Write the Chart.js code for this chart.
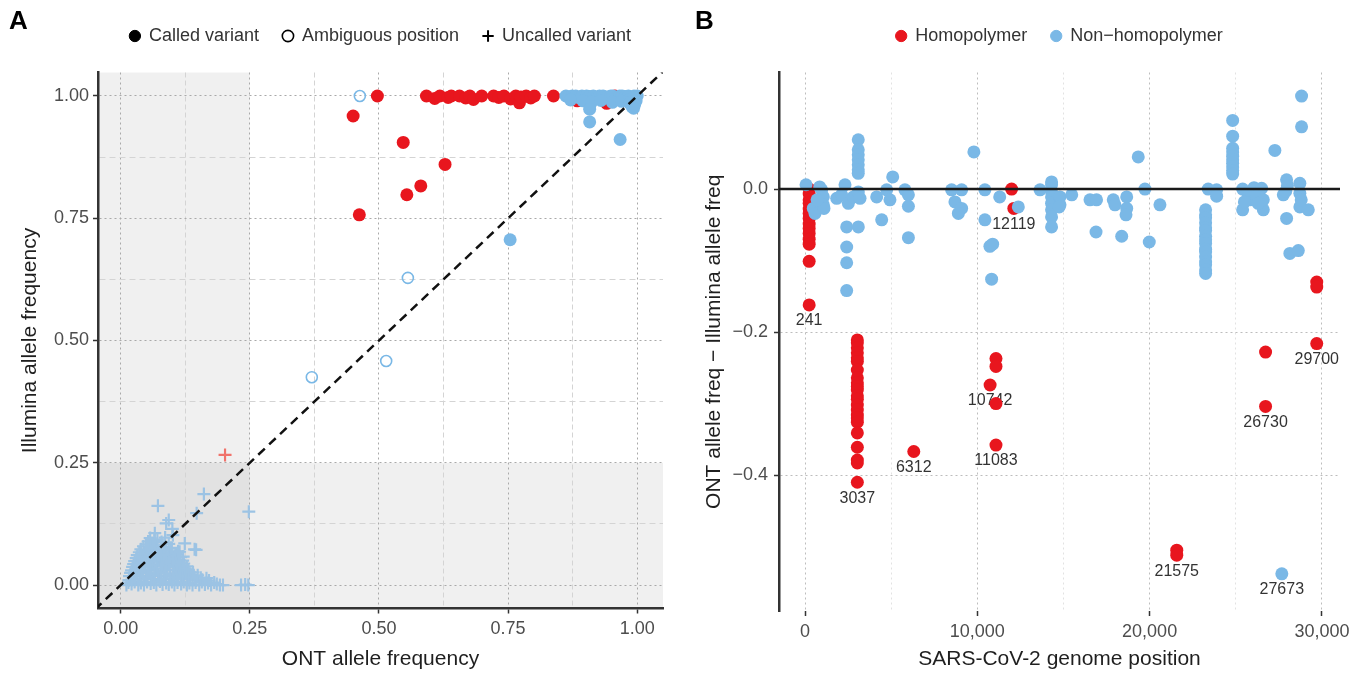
<!DOCTYPE html>
<html>
<head>
<meta charset="utf-8">
<script src="https://cdn.jsdelivr.net/npm/chart.js@4/dist/chart.umd.min.js"></script>
<style>
  html, body { margin: 0; padding: 0; background: #ffffff; overflow: hidden; }
  #boxA { position: absolute; left: 0; top: 0; width: 684px; height: 679px; }
  #boxB { position: absolute; left: 684px; top: 0; width: 685px; height: 679px; }
</style>
</head>
<body>
<div id="boxA"><canvas id="chartA" width="684" height="679"></canvas></div>
<div id="boxB"><canvas id="chartB" width="685" height="679"></canvas></div>
<script>
// ---------------- Panel A data ----------------
const calledHomoONT = [0.497,0.450,0.462,0.547,0.554,0.581,0.628,
  0.592,0.608,0.618,0.634,0.640,0.656,0.668,0.676,0.683,0.699,
  0.722,0.732,0.742,0.755,0.765,0.772,0.775,0.785,0.794,0.801,
  0.838,0.941,0.957,0.884];
const calledHomoIllumina = [1.000,0.959,0.757,0.905,0.798,0.816,0.860,
  1.000,0.995,1.000,0.997,1.000,1.000,0.996,1.000,0.993,1.000,
  1.000,0.997,1.000,0.994,1.000,0.986,0.998,1.000,0.996,1.000,
  1.000,0.985,1.000,0.990];

const calledNonHomoONT = [0.862,0.868,0.874,0.881,0.886,0.893,0.902,0.908,0.915,0.921,0.927,0.934,
  0.942,0.949,0.953,0.961,0.966,0.971,0.978,0.983,0.988,0.994,1.000,
  0.871,0.895,0.912,0.930,0.952,0.970,0.985,0.998,0.995,0.990,
  0.908,0.908,0.967,0.993,0.754];
const calledNonHomoIllumina = [1.000,0.998,1.000,1.000,0.997,1.000,1.000,0.999,1.000,0.996,1.000,1.000,
  0.998,1.000,1.000,0.997,1.000,1.000,0.999,1.000,0.996,1.000,1.000,
  0.992,0.990,0.988,0.991,0.987,0.989,0.986,0.990,0.982,0.978,
  0.973,0.947,0.911,0.975,0.706];

const ambiguousONT = [0.463,0.556,0.514,0.370];
const ambiguousIllumina = [1.000,0.628,0.458,0.425];

const uncalledHomoONT = [0.202];
const uncalledHomoIllumina = [0.266];

const uncalledONT = [
  0.011,0.021,0.034,0.045,0.058,0.069,0.081,0.093,0.104,0.117,0.128,0.139,0.152,0.163,0.175,0.186,0.192,0.198,0.233,0.241,0.247,
  0.015,0.027,0.039,0.051,0.064,0.076,0.088,0.099,0.110,0.122,0.133,0.145,0.157,0.169,0.181,
  0.016,0.028,0.040,0.052,0.063,0.075,0.087,0.099,0.111,0.122,0.134,0.146,0.158,0.171,
  0.017,0.026,0.037,0.049,0.060,0.072,0.084,0.096,0.108,0.119,0.131,0.143,0.155,0.166,
  0.019,0.031,0.043,0.055,0.066,0.079,0.090,0.102,0.113,0.125,0.137,0.149,
  0.021,0.029,0.041,0.053,0.065,0.077,0.089,0.101,0.114,0.126,0.140,
  0.023,0.035,0.047,0.059,0.071,0.083,0.095,0.107,0.119,0.131,
  0.025,0.033,0.045,0.057,0.069,0.081,0.092,0.104,0.116,0.128,
  0.027,0.039,0.051,0.062,0.074,0.086,0.098,0.110,0.122,
  0.030,0.041,0.053,0.065,0.077,0.089,0.101,0.113,0.120,
  0.032,0.044,0.056,0.068,0.080,0.092,0.104,0.116,
  0.036,0.047,0.059,0.071,0.083,0.095,0.107,
  0.039,0.051,0.063,0.076,0.088,0.099,0.111,
  0.044,0.056,0.068,0.083,0.097,
  0.049,0.061,0.077,0.093,
  0.053,0.065,0.079,
  0.057,0.071,0.086,
  0.072,0.161,0.147,0.248,0.088,0.093,0.066,0.101,0.124,0.143,0.121,0.124,0.114,0.079,0.146,0.100];
const uncalledIllumina = [
  0.000,0.002,0.000,0.000,0.003,0.000,0.001,0.001,0.000,0.002,0.000,0.000,0.000,0.001,0.000,0.002,0.000,0.000,0.000,0.001,0.000,
  0.005,0.006,0.004,0.006,0.005,0.007,0.004,0.006,0.005,0.006,0.004,0.005,0.006,0.004,0.005,
  0.010,0.013,0.011,0.014,0.012,0.010,0.013,0.012,0.011,0.014,0.012,0.010,0.011,0.009,
  0.018,0.017,0.019,0.016,0.018,0.019,0.017,0.018,0.016,0.019,0.017,0.016,0.015,0.014,
  0.025,0.022,0.026,0.024,0.023,0.027,0.024,0.022,0.025,0.023,0.021,0.020,
  0.030,0.031,0.029,0.032,0.030,0.028,0.031,0.030,0.029,0.027,0.026,
  0.037,0.035,0.038,0.036,0.034,0.039,0.036,0.037,0.033,0.031,
  0.043,0.041,0.044,0.042,0.040,0.043,0.042,0.041,0.039,0.038,
  0.049,0.047,0.050,0.048,0.051,0.046,0.049,0.047,0.044,
  0.055,0.053,0.056,0.054,0.052,0.055,0.053,0.051,0.050,
  0.061,0.059,0.062,0.060,0.058,0.063,0.060,0.057,
  0.067,0.065,0.068,0.066,0.064,0.067,0.063,
  0.073,0.071,0.074,0.070,0.072,0.075,0.069,
  0.079,0.077,0.080,0.078,0.076,
  0.083,0.086,0.081,0.084,
  0.089,0.091,0.088,
  0.096,0.093,0.097,
  0.162,0.186,0.147,0.150,0.126,0.133,0.106,0.102,0.085,0.073,0.058,0.034,0.068,0.061,0.072,0.115];

const identityLine = [-0.05, 1.05];
const lowFreqCutoff = 0.25;
const freqLimitsX = [-0.044, 1.05];
const freqLimitsY = [-0.048, 1.048];
const freqTicks = [0, 0.125, 0.25, 0.375, 0.5, 0.625, 0.75, 0.875, 1];
const freqTickLabels = ['0.00', '', '0.25', '', '0.50', '', '0.75', '', '1.00'];
const legendLabelsA = ['Called variant', 'Ambiguous position', 'Uncalled variant'];

// ---------------- Panel B data ----------------
const homoPos = [241,241,241,241,241,241,241,241,241,241,241,241,241,241,
  3037,3037,3037,3037,3037,3037,3037,3037,3037,3037,3037,3037,3037,3037,3037,3037,3037,3037,3037,3037,3037,3037,3037,
  6312,10742,11083,11083,11083,11083,11990,12119,21575,21575,26730,26730,29700,29700,29700];
const homoDiff = [0.000,-0.007,-0.015,-0.020,-0.028,-0.034,-0.041,-0.049,-0.055,-0.062,-0.070,-0.077,-0.101,-0.162,
  -0.211,-0.215,-0.222,-0.229,-0.236,-0.241,-0.253,-0.264,-0.271,-0.276,-0.281,-0.289,-0.294,-0.302,-0.309,-0.316,-0.320,-0.326,-0.341,-0.361,-0.379,-0.383,-0.410,
  -0.367,-0.274,-0.237,-0.248,-0.300,-0.358,0.000,-0.027,-0.505,-0.512,-0.228,-0.304,-0.216,-0.130,-0.137];

const nonHomoPos = [58,480,580,967,1064,1064,1100,700,850,
  1840,2128,2321,2515,2805,3095,3192,
  3090,3090,3090,3090,3090,3090,3090,
  2418,3095,2418,2418,2418,
  4450,4160,4740,4930,5090,
  5800,6000,6000,6000,
  8510,9090,8700,9090,8900,9800,
  10440,10440,11300,12380,10730,10890,10830,
  13640,
  14310,14310,14310,14310,14310,14310,14310,14310,
  14800,14800,14750,15480,
  16540,16920,16890,
  17890,17990,18670,18670,18630,18380,
  19340,19730,20600,19980,
  23400,23890,23890,
  23250,23250,23250,23250,23250,23250,23250,23250,23250,23250,23250,23250,23250,23250,23250,23250,
  24820,24820,24820,24820,24820,24820,24820,24820,24820,24820,
  25400,25400,25820,26060,26500,26600,25700,26200,26600,25500,26300,
  27270,27950,27760,27950,28140,28630,
  28720,28720,28720,29210,28820,28820,
  27673,28000,27900,28800];
const nonHomoDiff = [0.006,-0.027,-0.034,-0.001,-0.011,-0.022,-0.027,-0.015,0.003,
  -0.013,-0.008,0.006,-0.020,-0.011,-0.004,-0.013,
  0.069,0.055,0.048,0.041,0.034,0.027,0.022,
  -0.053,-0.053,-0.081,-0.103,-0.142,
  -0.043,-0.011,-0.001,-0.015,0.017,
  -0.001,-0.008,-0.024,-0.068,
  -0.001,-0.001,-0.018,-0.027,-0.034,0.052,
  -0.001,-0.043,-0.011,-0.025,-0.080,-0.077,-0.126,
  -0.001,
  0.010,0.006,-0.004,-0.011,-0.020,-0.029,-0.039,-0.053,
  -0.022,-0.011,-0.025,-0.008,
  -0.015,-0.015,-0.060,
  -0.015,-0.022,-0.011,-0.027,-0.036,-0.066,
  0.045,0.000,-0.022,-0.074,
  0.000,-0.001,-0.010,
  -0.029,-0.036,-0.040,-0.047,-0.054,-0.058,-0.066,-0.071,-0.076,-0.084,-0.088,-0.095,-0.102,-0.106,-0.113,-0.118,
  0.096,0.074,0.057,0.052,0.046,0.041,0.036,0.031,0.026,0.021,
  0.000,-0.029,-0.015,0.002,0.001,-0.029,-0.006,-0.010,-0.015,-0.018,-0.020,
  0.054,0.013,-0.008,-0.041,-0.090,-0.086,
  0.008,-0.006,-0.025,-0.029,0.087,0.130,
  -0.538,0.005,-0.003,-0.015];

const labelSites = [241, 3037, 6312, 10742, 11083, 12119, 21575, 26730, 27673, 29700];
const labelDiffs = [-0.162, -0.410, -0.367, -0.274, -0.358, -0.027, -0.512, -0.304, -0.538, -0.216];
const referenceDiff = 0;
const posLimits = [-1510, 31050];
const diffLimits = [-0.59, 0.163];
const posTicks = [0, 5000, 10000, 15000, 20000, 25000, 30000];
const posTickLabels = ['0', '', '10,000', '', '20,000', '', '30,000'];
const diffTicks = [-0.4, -0.2, 0];
const diffTickLabels = ['\u22120.4', '\u22120.2', '0.0'];
const legendLabelsB = ['Homopolymer', 'Non\u2212homopolymer'];
const panelLetters = ['A', 'B'];

// ---------------- styling ----------------
const FONT = '"Liberation Sans", Arial, Helvetica, sans-serif';
Chart.defaults.font.family = FONT;
Chart.defaults.color = '#4d4d4d';
const RED = '#e8161e';
const BLUE = '#7ab8e6';
const CROSS_BLUE = '#9cc3e4';
const CROSS_RED = '#f0736b';
const TOP_GAP = 17.5;

const toPoints = (xs, ys) => xs.map((x, i) => ({ x, y: ys[i] }));

function gridFor(labels, majorColor, minorColor) {
  return {
    color: c => labels[c.index] ? majorColor : minorColor,
    lineWidth: 1,
    tickLength: 5,
    tickWidth: 1.5,
    tickColor: c => labels[c.index] ? '#333333' : 'rgba(0,0,0,0)'
  };
}
function borderFor(labels, show, majorDash, minorDash) {
  return {
    display: show, color: '#333333', width: 2.5,
    dash: c => (c.type === 'tick' && !labels[c.index]) ? minorDash : majorDash
  };
}
function tickOpts(labels, pad) {
  return {
    autoSkip: false, maxRotation: 0, minRotation: 0, padding: pad,
    color: '#4d4d4d', font: { size: 18 },
    callback: (v, i) => labels[i]
  };
}
const spacerAxis = {
  type: 'linear', position: 'top', display: true,
  grid: { display: false, drawTicks: false },
  ticks: { display: false },
  border: { display: false },
  afterFit: s => { s.height = TOP_GAP; }
};

const panelLetterPlugin = {
  id: 'panelLetter',
  afterDraw(chart, args, opts) {
    const ctx = chart.ctx;
    ctx.save();
    ctx.font = 'bold 26px ' + FONT;
    ctx.fillStyle = '#000';
    ctx.textBaseline = 'middle';
    ctx.textAlign = 'left';
    ctx.fillText(opts.text, opts.x, opts.y);
    ctx.restore();
  }
};

const shadePlugin = {
  id: 'lowFreqShade',
  beforeDraw(chart) {
    const { ctx, chartArea: a, scales: { x, y } } = chart;
    const xe = x.getPixelForValue(lowFreqCutoff);
    const ye = y.getPixelForValue(lowFreqCutoff);
    ctx.save();
    ctx.fillStyle = 'rgba(0,0,0,0.06)';
    ctx.fillRect(a.left, a.top, xe - a.left, a.bottom - a.top);
    ctx.fillRect(a.left, ye, a.right - a.left, a.bottom - ye);
    ctx.restore();
  }
};

const siteLabelPlugin = {
  id: 'siteLabels',
  beforeDatasetsDraw(chart) {
    const { ctx, scales: { x, y } } = chart;
    ctx.save();
    ctx.font = '16px ' + FONT;
    ctx.fillStyle = '#333333';
    ctx.textAlign = 'center';
    ctx.textBaseline = 'middle';
    labelSites.forEach((site, i) => {
      ctx.fillText(String(site), x.getPixelForValue(site), y.getPixelForValue(labelDiffs[i]) + 16);
    });
    ctx.restore();
  }
};

const legendStylesA = [
  { pointStyle: 'circle', fillStyle: '#000', strokeStyle: '#000', lineWidth: 1 },
  { pointStyle: 'circle', fillStyle: 'rgba(0,0,0,0)', strokeStyle: '#000', lineWidth: 1.6 },
  { pointStyle: 'cross', fillStyle: '#000', strokeStyle: '#000', lineWidth: 2 }
];
const legendStylesB = [
  { pointStyle: 'circle', fillStyle: RED, strokeStyle: RED, lineWidth: 1 },
  { pointStyle: 'circle', fillStyle: BLUE, strokeStyle: BLUE, lineWidth: 1 }
];
function legendOpts(labels, styles) {
  return {
    display: true, position: 'top', align: 'center', fullSize: false,
    onClick: () => {},
    labels: {
      usePointStyle: true, boxWidth: 10, boxHeight: 8, padding: 24,
      color: '#333333', font: { size: 18 },
      generateLabels: () => labels.map((text, i) => Object.assign({ text, hidden: false, fontColor: '#333333' }, styles[i]))
    }
  };
}

// ---------------- Chart A ----------------
new Chart(document.getElementById('chartA'), {
  type: 'scatter',
  data: {
    datasets: [
      { type: 'line', label: 'y = x', data: identityLine.map(v => ({ x: v, y: v })),
        borderColor: '#111111', borderWidth: 2.5, borderDash: [9, 6], pointRadius: 0, fill: false,
        xAxisID: 'x', yAxisID: 'y', order: 0 },
      { label: 'Called non-homopolymer', data: toPoints(calledNonHomoONT, calledNonHomoIllumina),
        backgroundColor: BLUE, borderColor: BLUE, borderWidth: 0, pointRadius: 6.5,
        xAxisID: 'x', yAxisID: 'y', order: 1 },
      { label: 'Called homopolymer', data: toPoints(calledHomoONT, calledHomoIllumina),
        backgroundColor: RED, borderColor: RED, borderWidth: 0, pointRadius: 6.5,
        xAxisID: 'x', yAxisID: 'y', order: 2 },
      { label: 'Ambiguous position', data: toPoints(ambiguousONT, ambiguousIllumina),
        backgroundColor: 'rgba(0,0,0,0)', borderColor: BLUE, borderWidth: 1.6, pointRadius: 5.5,
        xAxisID: 'x', yAxisID: 'y', order: 3 },
      { label: 'Uncalled homopolymer', data: toPoints(uncalledHomoONT, uncalledHomoIllumina),
        pointStyle: 'cross', backgroundColor: CROSS_RED, borderColor: CROSS_RED, borderWidth: 2.2, pointRadius: 6.5,
        xAxisID: 'x', yAxisID: 'y', order: 4 },
      { label: 'Uncalled non-homopolymer', data: toPoints(uncalledONT, uncalledIllumina),
        pointStyle: 'cross', backgroundColor: CROSS_BLUE, borderColor: CROSS_BLUE, borderWidth: 2.2, pointRadius: 6.5,
        xAxisID: 'x', yAxisID: 'y', order: 5 }
    ]
  },
  options: {
    responsive: false, animation: false, events: [], devicePixelRatio: 1,
    layout: { padding: { top: 3, right: 21, bottom: 0, left: 0 } },
    scales: {
      x: {
        type: 'linear', position: 'bottom', min: freqLimitsX[0], max: freqLimitsX[1],
        afterBuildTicks: s => { s.ticks = freqTicks.map(v => ({ value: v })); },
        ticks: tickOpts(freqTickLabels, 5),
        grid: gridFor(freqTickLabels, '#a9a9a9', '#d4d4d4'),
        border: borderFor(freqTickLabels, true, [2, 3], [5, 3]),
        title: { display: true, text: 'ONT allele frequency', color: '#1f1f1f', font: { size: 21 }, padding: { top: 4, bottom: 7 } },
        afterFit: s => { s.height = 70.5; }
      },
      y: {
        type: 'linear', position: 'left', min: freqLimitsY[0], max: freqLimitsY[1],
        afterBuildTicks: s => { s.ticks = freqTicks.map(v => ({ value: v })); },
        ticks: tickOpts(freqTickLabels, 4),
        grid: gridFor(freqTickLabels, '#a9a9a9', '#d4d4d4'),
        border: borderFor(freqTickLabels, true, [2, 3], [6, 4]),
        title: { display: true, text: 'Illumina allele frequency', color: '#1f1f1f', font: { size: 21 }, padding: { top: 18, bottom: 4 } },
        afterFit: s => { s.width = 98; }
      },
      xTop: spacerAxis
    },
    plugins: {
      legend: legendOpts(legendLabelsA, legendStylesA),
      tooltip: { enabled: false },
      panelLetter: { text: panelLetters[0], x: 9, y: 22 }
    }
  },
  plugins: [shadePlugin, panelLetterPlugin]
});

// ---------------- Chart B ----------------
new Chart(document.getElementById('chartB'), {
  type: 'scatter',
  data: {
    datasets: [
      { type: 'line', label: 'zero', data: posLimits.map(p => ({ x: p, y: referenceDiff })),
        borderColor: '#1a1a1a', borderWidth: 2.6, pointRadius: 0, fill: false,
        xAxisID: 'x', yAxisID: 'y', order: 0 },
      { label: 'Non\u2212homopolymer', data: toPoints(nonHomoPos, nonHomoDiff),
        backgroundColor: BLUE, borderColor: BLUE, borderWidth: 0, pointRadius: 6.5,
        xAxisID: 'x', yAxisID: 'y', order: 1 },
      { label: 'Homopolymer', data: toPoints(homoPos, homoDiff),
        backgroundColor: RED, borderColor: RED, borderWidth: 0, pointRadius: 6.5,
        xAxisID: 'x', yAxisID: 'y', order: 2 }
    ]
  },
  options: {
    responsive: false, animation: false, events: [], devicePixelRatio: 1,
    layout: { padding: { top: 3, right: 29, bottom: 0, left: 0 } },
    scales: {
      x: {
        type: 'linear', position: 'bottom', min: posLimits[0], max: posLimits[1],
        afterBuildTicks: s => { s.ticks = posTicks.map(v => ({ value: v })); },
        ticks: tickOpts(posTickLabels, 5),
        grid: gridFor(posTickLabels, '#bdbdbd', '#e2e2e2'),
        border: borderFor(posTickLabels, false, [2, 3], [2, 3]),
        title: { display: true, text: 'SARS-CoV-2 genome position', color: '#1f1f1f', font: { size: 21 }, padding: { top: 4, bottom: 7 } },
        afterFit: s => { s.height = 68; }
      },
      y: {
        type: 'linear', position: 'left', min: diffLimits[0], max: diffLimits[1],
        afterBuildTicks: s => { s.ticks = diffTicks.map(v => ({ value: v })); },
        ticks: tickOpts(diffTickLabels, 6),
        grid: gridFor(diffTickLabels, '#bdbdbd', '#e2e2e2'),
        border: borderFor(diffTickLabels, true, [2, 3], [2, 3]),
        title: { display: true, text: 'ONT allele freq \u2212 Illumina allele freq', color: '#1f1f1f', font: { size: 21 }, padding: { top: 18, bottom: 4 } },
        afterFit: s => { s.width = 95; }
      },
      xTop: spacerAxis
    },
    plugins: {
      legend: legendOpts(legendLabelsB, legendStylesB),
      tooltip: { enabled: false },
      panelLetter: { text: panelLetters[1], x: 11, y: 22 }
    }
  },
  plugins: [siteLabelPlugin, panelLetterPlugin]
});
</script>
</body>
</html>
